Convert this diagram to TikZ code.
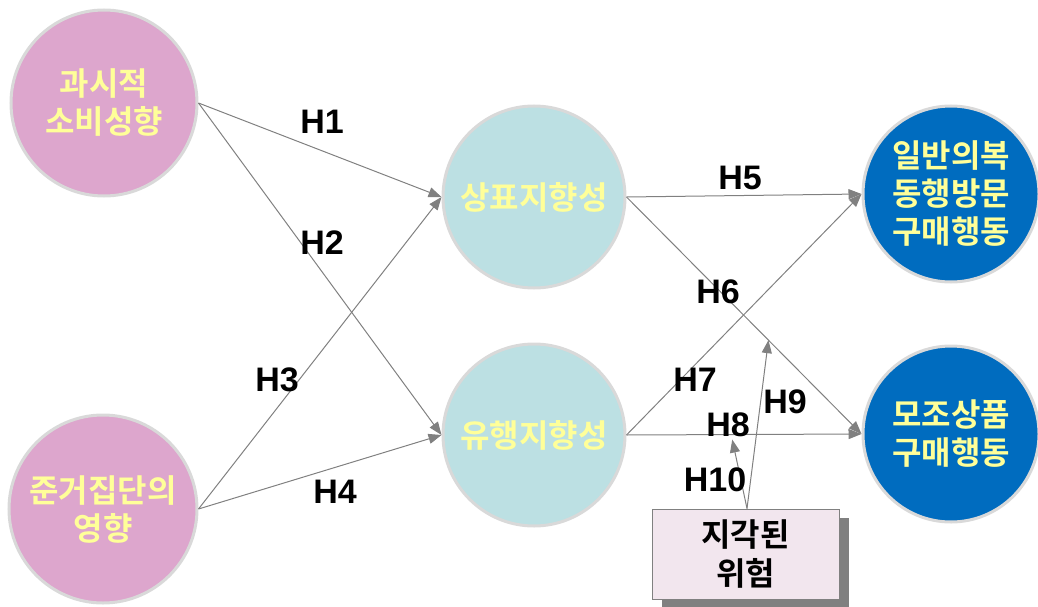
\documentclass[tikz,border=0pt]{standalone}
\usepackage{fontspec}
\setmainfont{Liberation Sans}
\newfontfamily\kr{Noto Sans CJK KR}[BoldFont=* Bold]
\usetikzlibrary{arrows.meta,shadows}
\definecolor{pinkc}{HTML}{DDA6CD}
\definecolor{cyanc}{HTML}{BCE0E3}
\definecolor{bluec}{HTML}{006CBF}
\definecolor{yel}{HTML}{FFFF99}
\definecolor{ringc}{HTML}{D9D9D9}
\definecolor{arr}{HTML}{808080}
\definecolor{boxc}{HTML}{F2E6EE}
\begin{document}
\begin{tikzpicture}[x=1pt,y=-1pt,
  circ/.style={circle,draw=ringc,line width=3pt,inner sep=0pt,align=center,
    text=yel,font=\kr\bfseries\fontsize{32}{38}\selectfont},
  conn/.style={draw=arr,line width=1pt,-{Triangle[length=13pt,width=10pt]}},
  hlab/.style={font=\bfseries\fontsize{34}{38}\selectfont,text=black,inner sep=0pt},
  riskbox/.style={rectangle,draw=arr,line width=1pt,fill=boxc,minimum width=187pt,minimum height=90pt,
    align=center,font=\kr\bfseries\fontsize{32}{39}\selectfont,
    drop shadow={shadow xshift=10pt,shadow yshift=-9pt,fill=arr,opacity=1}}]
\useasboundingbox (0,0) rectangle (1038,607);
\node[circ,fill=pinkc,minimum size=186pt] (a) at (104,103) {과시적\\소비성향};
\node[circ,fill=pinkc,minimum size=188pt] (b) at (103,509) {준거집단의\\영향};
\node[circ,fill=cyanc,minimum size=182pt] (c) at (534,197) {상표지향성};
\node[circ,fill=cyanc,minimum size=182pt] (d) at (534,435) {유행지향성};
\node[circ,fill=bluec,minimum size=176pt] (e) at (951,194) {일반의복\\동행방문\\구매행동};
\node[circ,fill=bluec,minimum size=176pt] (f) at (951,434) {모조상품\\구매행동};
\node[riskbox] (g) at (745.5,554) {지각된\\위험};
\path[conn] (a.east) -- (c.west);
\path[conn] (a.east) -- (d.west);
\path[conn] (b.east) -- (c.west);
\path[conn] (b.east) -- (d.west);
\path[conn] (c.east) -- (e.west);
\path[conn] (c.east) -- coordinate[pos=0.604] (m6) (f.west);
\path[conn] (d.east) -- (e.west);
\path[conn] (d.east) -- coordinate[pos=0.45] (m8) (f.west);
\path[conn] ([xshift=1.5pt]g.north) -- (m6);
\path[conn] ([xshift=1.5pt]g.north) -- ([yshift=-5pt]m8);
\node[hlab] (h1) at (322,122) {H1};
\node[hlab] (h2) at (322,243) {H2};
\node[hlab] (h3) at (277,380) {H3};
\node[hlab] (h4) at (335,492) {H4};
\node[hlab] (h5) at (740,178) {H5};
\node[hlab] (h6) at (718,292) {H6};
\node[hlab] (h7) at (695,380) {H7};
\node[hlab] (h8) at (728,425) {H8};
\node[hlab] (h9) at (785,402) {H9};
\node[hlab] (h10) at (715,480) {H10};
\end{tikzpicture}
\end{document}
